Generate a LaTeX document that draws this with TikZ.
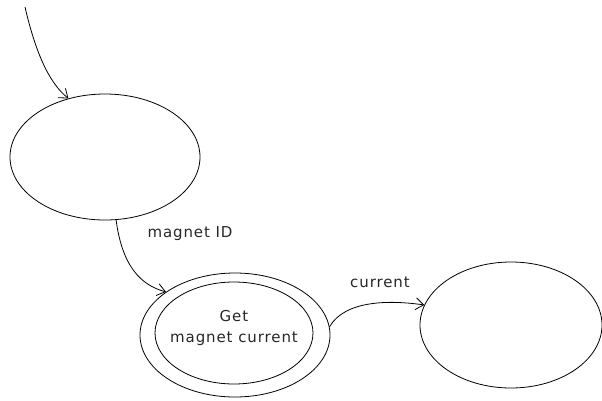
\documentclass[tikz,border=0pt]{standalone}
\usepackage{fontspec}
\setmainfont{DejaVu Sans}[LetterSpace=6]
\usetikzlibrary{shapes.geometric,arrows.meta}
\begin{document}
\begin{tikzpicture}[x=1pt,y=1pt,
  state/.style={ellipse,draw,line width=0.8pt,inner sep=0pt},
  lbl/.style={font=\fontsize{15}{21}\selectfont,inner sep=0pt,text=black!85},
  conn/.style={line width=0.8pt,-{Straight Barb[length=8pt,width=12pt,line width=0.8pt]}}]
\useasboundingbox (0,0) rectangle (602,400);
\node[state,minimum width=190,minimum height=126] (s1) at (105,243) {};
\node[state,minimum width=190,minimum height=124] (s2o) at (235,65) {};
\node[state,minimum width=158,minimum height=102] (s2) at (234,67) {};
\node[lbl,align=center] (s2t) at (234,72) {Get\\magnet current};
\node[state,minimum width=182,minimum height=126] (s3) at (511,75) {};
\coordinate (start) at (25,393);
\draw[conn] (start) .. controls (35,350) and (48,318) .. (s1.122);
\draw[conn] (s1.-80) .. controls (122,135) and (140,115) .. (s2o.148);
\draw[conn] (s2o.5) .. controls (345,100) and (390,100) .. (s3.167);
\node[lbl] (l1) at (190,166) {magnet ID};
\node[lbl] (l2) at (380,118) {current};
\end{tikzpicture}
\end{document}
